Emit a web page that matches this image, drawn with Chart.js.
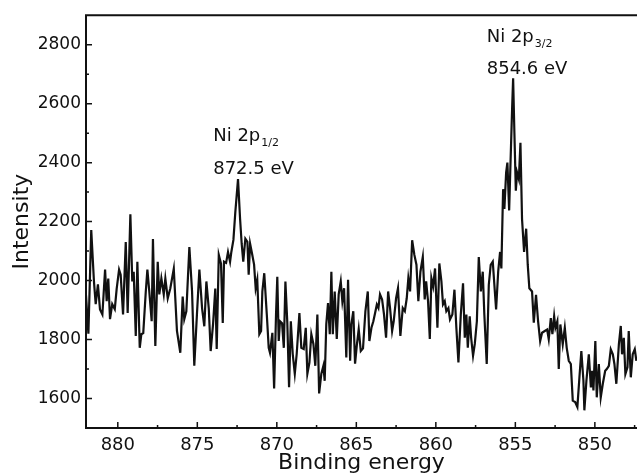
<!DOCTYPE html>
<html lang="en">
<head>
<meta charset="UTF-8">
<title>Ni 2p XPS</title>
<script src="https://cdn.jsdelivr.net/npm/chart.js"></script>
<style>
  html, body { margin: 0; padding: 0; background: #fff; }
</style>
</head>
<body>
<canvas id="xps" width="637" height="476"></canvas>
<script>
// binding energy (eV)
const energy = [
  882.00, 881.85, 881.67, 881.50, 881.39, 881.25, 881.12, 880.97, 880.80, 880.70,
  880.60, 880.49, 880.35, 880.19, 880.07, 879.92, 879.82, 879.67, 879.50, 879.38,
  879.21, 879.09, 879.00, 878.87, 878.77, 878.62, 878.52, 878.40, 878.24, 878.14,
  878.02, 877.87, 877.79, 877.64, 877.49, 877.39, 877.26, 877.11, 877.01, 876.86,
  876.70, 876.48, 876.28, 876.07, 875.92, 875.82, 875.69, 875.50, 875.33, 875.19,
  875.02, 874.87, 874.70, 874.56, 874.43, 874.28, 874.16, 874.01, 873.87, 873.78,
  873.65, 873.51, 873.40, 873.32, 873.19, 873.07, 872.94, 872.86, 872.73, 872.61,
  872.44, 872.31, 872.21, 872.11, 871.98, 871.85, 871.77, 871.68, 871.56, 871.43,
  871.33, 871.23, 871.10, 870.99, 870.91, 870.79, 870.63, 870.51, 870.43, 870.28,
  870.17, 870.05, 869.97, 869.88, 869.80, 869.67, 869.56, 869.46, 869.34, 869.23,
  869.12, 869.00, 868.87, 868.75, 868.58, 868.46, 868.31, 868.18, 868.08, 867.95,
  867.83, 867.70, 867.58, 867.45, 867.34, 867.20, 867.07, 866.99, 866.89, 866.78,
  866.67, 866.57, 866.48, 866.36, 866.23, 866.11, 865.98, 865.88, 865.77, 865.63,
  865.52, 865.39, 865.31, 865.19, 865.08, 864.97, 864.85, 864.72, 864.58, 864.43,
  864.28, 864.18, 864.05, 863.93, 863.82, 863.71, 863.61, 863.51, 863.38, 863.26,
  863.13, 863.00, 862.88, 862.75, 862.65, 862.50, 862.38, 862.23, 862.08, 861.95,
  861.83, 861.73, 861.62, 861.49, 861.35, 861.22, 861.10, 860.97, 860.82, 860.70,
  860.61, 860.49, 860.38, 860.28, 860.17, 860.05, 859.90, 859.78, 859.65, 859.55,
  859.44, 859.34, 859.21, 859.11, 858.96, 858.83, 858.71, 858.58, 858.43, 858.29,
  858.18, 858.08, 857.99, 857.87, 857.78, 857.66, 857.55, 857.42, 857.30, 857.17,
  857.05, 856.95, 856.80, 856.67, 856.55, 856.42, 856.29, 856.21, 856.08, 855.96,
  855.88, 855.77, 855.69, 855.58, 855.50, 855.39, 855.31, 855.20, 855.14, 855.06,
  854.97, 854.89, 854.78, 854.68, 854.58, 854.45, 854.32, 854.22, 854.12, 853.95,
  853.84, 853.70, 853.57, 853.44, 853.32, 853.15, 853.00, 852.90, 852.77, 852.67,
  852.56, 852.48, 852.36, 852.27, 852.17, 852.02, 851.89, 851.77, 851.64, 851.51,
  851.39, 851.24, 851.10, 850.97, 850.85, 850.72, 850.66, 850.53, 850.38, 850.25,
  850.17, 850.09, 849.97, 849.88, 849.75, 849.63, 849.50, 849.35, 849.25, 849.12,
  849.00, 848.87, 848.77, 848.65, 848.49, 848.37, 848.29, 848.18, 848.08, 847.95,
  847.87, 847.74, 847.62, 847.49, 847.39
];

// intensity (counts)
const intensity = [
  1950, 1820, 2171, 1997, 1920, 1987, 1902, 1885, 2037, 1930,
  2007, 1869, 1920, 1903, 1973, 2037, 2020, 1885, 2131, 1890,
  2225, 1997, 2030, 1812, 2064, 1772, 1818, 1822, 1963, 2037,
  1963, 1862, 2141, 1778, 2064, 1953, 2007, 1953, 2007, 1940,
  1973, 2040, 1829, 1755, 1946, 1869, 1896, 2114, 1963, 1711,
  1889, 2037, 1906, 1845, 1997, 1906, 1761, 1852, 1973, 1768,
  2087, 2057, 1856, 2064, 2060, 2097, 2064, 2097, 2138, 2232,
  2344, 2209, 2125, 2064, 2142, 2131, 2020, 2125, 2092, 2054,
  1974, 2003, 1818, 1829, 1963, 2025, 1885, 1772, 1755, 1823,
  1634, 1885, 2013, 1795, 1862, 1855, 1772, 1997, 1856, 1638,
  1862, 1751, 1684, 1751, 1890, 1772, 1768, 1840, 1684, 1722,
  1818, 1785, 1711, 1885, 1617, 1684, 1711, 1660, 1852, 1924,
  1818, 2030, 1818, 1963, 1802, 1953, 1997, 1930, 1974, 1739,
  2003, 1728, 1852, 1896, 1718, 1780, 1835, 1761, 1770, 1896,
  1963, 1795, 1840, 1862, 1890, 1919, 1907, 1953, 1936, 1885,
  1806, 1963, 1907, 1829, 1862, 1940, 1974, 1812, 1907, 1896,
  1940, 2008, 1963, 2137, 2087, 2054, 1930, 2030, 2080, 1936,
  1997, 1930, 1802, 2008, 1980, 2041, 1840, 2058, 1997, 1919,
  1930, 1896, 1907, 1868, 1885, 1969, 1840, 1722, 1885, 1991,
  1806, 1885, 1772, 1879, 1806, 1745, 1785, 1862, 2080, 1963,
  2030, 1885, 1717, 1986, 2053, 2064, 1963, 1902, 2030, 2097,
  2041, 2310, 2243, 2366, 2400, 2238, 2389, 2590, 2686, 2501,
  2305, 2366, 2344, 2467, 2209, 2097, 2176, 2053, 1974, 1963,
  1857, 1952, 1862, 1795, 1823, 1829, 1834, 1801, 1873, 1818,
  1879, 1840, 1862, 1700, 1851, 1784, 1840, 1772, 1728, 1717,
  1593, 1588, 1571, 1672, 1761, 1661, 1560, 1661, 1750, 1638,
  1694, 1627, 1795, 1604, 1717, 1604, 1650, 1694, 1700, 1711,
  1767, 1750, 1717, 1650, 1784, 1846, 1750, 1806, 1683, 1706,
  1829, 1672, 1750, 1767, 1728
];

const xTickValues = [880, 875, 870, 865, 860, 855, 850];
const xMinorValues = [877.5, 872.5, 867.5, 862.5, 857.5, 852.5, 847.5];
const yTickValues = [1600, 1800, 2000, 2200, 2400, 2600, 2800];
const yMinorValues = [1700, 1900, 2100, 2300, 2500, 2700];

// peak labels: name, subscript, position text, anchor (eV, intensity of each line)
const peakNames = ['Ni 2p', 'Ni 2p'];
const peakSubs = ['1/2', '3/2'];
const peakEnergyText = ['872.5 eV', '854.6 eV'];
const peakLabelX = [874.0, 856.8];
const peakNameY = [2474, 2810];
const peakEnergyY = [2360, 2702];

const FONT = "'DejaVu Sans', 'Liberation Sans', Arial, sans-serif";
const INK = '#111';

const framePlugin = {
  id: 'frame',
  afterDraw(chart) {
    const { ctx, chartArea: a, scales: { x, y } } = chart;
    ctx.save();
    ctx.strokeStyle = INK;
    ctx.lineWidth = 2;
    ctx.beginPath();
    ctx.moveTo(a.right + 2, a.top);
    ctx.lineTo(a.left, a.top);
    ctx.lineTo(a.left, a.bottom);
    ctx.lineTo(a.right + 2, a.bottom);
    ctx.stroke();

    ctx.lineWidth = 1.5;
    ctx.beginPath();
    xTickValues.forEach(v => {
      const p = x.getPixelForValue(v);
      ctx.moveTo(p, a.bottom); ctx.lineTo(p, a.bottom - 6);
    });
    xMinorValues.forEach(v => {
      const p = x.getPixelForValue(v);
      if (p < a.left || p > a.right) return;
      ctx.moveTo(p, a.bottom); ctx.lineTo(p, a.bottom - 3);
    });
    yTickValues.forEach(v => {
      const p = y.getPixelForValue(v);
      ctx.moveTo(a.left, p); ctx.lineTo(a.left + 6, p);
    });
    yMinorValues.forEach(v => {
      const p = y.getPixelForValue(v);
      ctx.moveTo(a.left, p); ctx.lineTo(a.left + 3, p);
    });
    ctx.stroke();

    // peak annotations
    ctx.fillStyle = INK;
    ctx.textBaseline = 'alphabetic';
    ctx.textAlign = 'left';
    peakNames.forEach((name, i) => {
      const px = x.getPixelForValue(peakLabelX[i]);
      const py1 = y.getPixelForValue(peakNameY[i]);
      const py2 = y.getPixelForValue(peakEnergyY[i]);
      ctx.font = '18px ' + FONT;
      ctx.fillText(name, px, py1);
      const w = ctx.measureText(name).width;
      ctx.font = '11px ' + FONT;
      ctx.fillText(peakSubs[i], px + w + 1, py1 + 5);
      ctx.font = '18px ' + FONT;
      ctx.fillText(peakEnergyText[i], px, py2);
    });
    ctx.restore();
  }
};

new Chart(document.getElementById('xps'), {
  type: 'line',
  data: {
    datasets: [{
      data: energy.map((e, i) => ({ x: e, y: intensity[i] })),
      borderColor: INK,
      borderWidth: 2.2,
      pointRadius: 0,
      tension: 0,
      fill: false
    }]
  },
  options: {
    responsive: false,
    animation: false,
    layout: { padding: { top: 13, right: 0, left: 0, bottom: 0 } },
    plugins: { legend: { display: false }, tooltip: { enabled: false } },
    scales: {
      x: {
        type: 'linear',
        reverse: true,
        min: 847.35,
        max: 882,
        grid: { display: false, drawTicks: false },
        border: { display: false },
        afterBuildTicks: s => { s.ticks = xTickValues.map(v => ({ value: v })); },
        afterFit: s => { s.height = 48; },
        ticks: { color: INK, padding: 7, maxRotation: 0, callback: v => String(v), font: { family: FONT, size: 18 } },
        title: { display: true, text: 'Binding energy', color: INK, padding: 0, font: { family: FONT, size: 22 } }
      },
      y: {
        min: 1500,
        max: 2900,
        grid: { display: false, drawTicks: false },
        border: { display: false },
        afterBuildTicks: s => { s.ticks = yTickValues.map(v => ({ value: v })); },
        afterFit: s => { s.width = 86; },
        ticks: { color: INK, padding: 5, callback: v => String(v), font: { family: FONT, size: 17 } },
        title: { display: true, text: 'Intensity', color: INK, padding: { top: 9 }, font: { family: FONT, size: 22 } }
      }
    }
  },
  plugins: [framePlugin]
});
</script>
</body>
</html>
